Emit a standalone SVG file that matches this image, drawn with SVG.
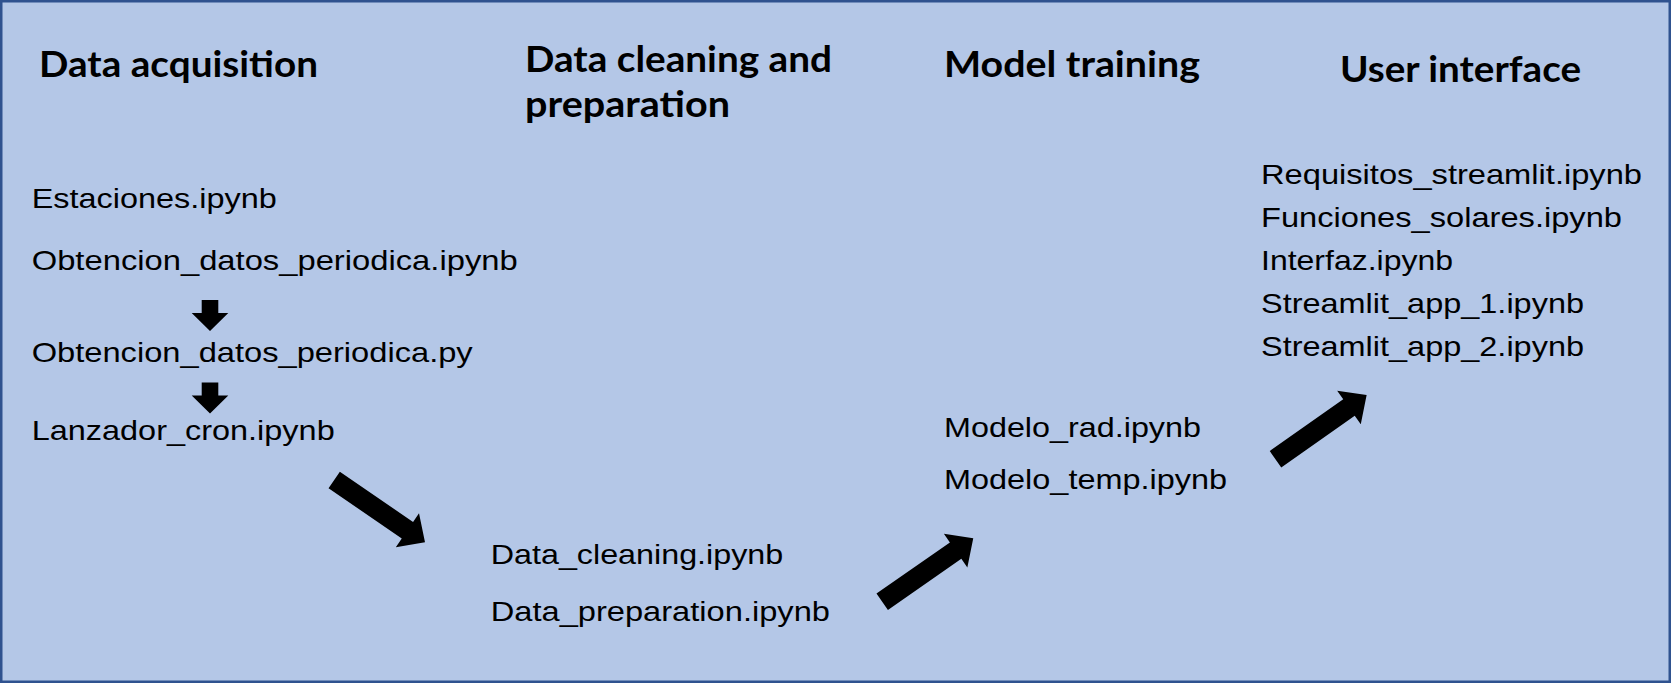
<svg xmlns="http://www.w3.org/2000/svg" xmlns:xlink="http://www.w3.org/1999/xlink" width="1671" height="683" viewBox="0 0 1671 683">
  <style>
    .h { font-family: Lato, "Open Sans", "Liberation Sans", sans-serif; font-weight: 700; font-size: 35.5px; fill: #000; }
    .t { font-family: "Liberation Sans", Arial, sans-serif; font-size: 27.5px; fill: #000; }
    .r { font-family: "Liberation Sans", Arial, sans-serif; font-size: 28.5px; fill: #000; }
    .arrow { fill: #000; }
  </style>
  <defs>
    <path id="bigArrow" d="M0,-10 L89.5,-10 L89.5,-20.5 L111,0 L89.5,20.5 L89.5,10 L0,10 Z"/>
    <path id="smallDown" d="M-8.3,0 L8.3,0 L8.3,13 L18.3,13 L0,31 L-18.3,13 L-8.3,13 Z"/>
  </defs>
  <rect x="1.25" y="1.25" width="1668.5" height="680.5" fill="#B4C7E7" stroke="#2F528F" stroke-width="2.5"/>

  <g id="data-acquisition">
    <text class="h" x="39" y="77" textLength="279" lengthAdjust="spacingAndGlyphs">Data acquisition</text>
    <text class="t" x="31.7" y="207.5" textLength="245" lengthAdjust="spacingAndGlyphs">Estaciones.ipynb</text>
    <text class="t" x="31.7" y="270" textLength="486" lengthAdjust="spacingAndGlyphs">Obtencion_datos_periodica.ipynb</text>
    <text class="t" x="31.7" y="361.7" textLength="441" lengthAdjust="spacingAndGlyphs">Obtencion_datos_periodica.py</text>
    <text class="t" x="31.7" y="440" textLength="303" lengthAdjust="spacingAndGlyphs">Lanzador_cron.ipynb</text>
  </g>

  <g id="data-cleaning">
    <text class="h" x="525" y="71.5" textLength="307" lengthAdjust="spacingAndGlyphs">Data cleaning and</text>
    <text class="h" x="525" y="117" textLength="205" lengthAdjust="spacingAndGlyphs">preparation</text>
    <text class="t" x="490.7" y="563.5" textLength="292.6" lengthAdjust="spacingAndGlyphs">Data_cleaning.ipynb</text>
    <text class="t" x="490.7" y="621" textLength="339.3" lengthAdjust="spacingAndGlyphs">Data_preparation.ipynb</text>
  </g>

  <g id="model-training">
    <text class="h" x="944" y="76.7" textLength="256" lengthAdjust="spacingAndGlyphs">Model training</text>
    <text class="r" x="944" y="437" textLength="257" lengthAdjust="spacingAndGlyphs">Modelo_rad.ipynb</text>
    <text class="r" x="944" y="489" textLength="283" lengthAdjust="spacingAndGlyphs">Modelo_temp.ipynb</text>
  </g>

  <g id="user-interface">
    <text class="h" x="1340" y="81.7" textLength="241" lengthAdjust="spacingAndGlyphs">User interface</text>
    <text class="r" x="1261" y="183.5" textLength="381" lengthAdjust="spacingAndGlyphs">Requisitos_streamlit.ipynb</text>
    <text class="r" x="1261" y="226.5" textLength="361" lengthAdjust="spacingAndGlyphs">Funciones_solares.ipynb</text>
    <text class="r" x="1261" y="269.5" textLength="192" lengthAdjust="spacingAndGlyphs">Interfaz.ipynb</text>
    <text class="r" x="1261" y="312.5" textLength="323" lengthAdjust="spacingAndGlyphs">Streamlit_app_1.ipynb</text>
    <text class="r" x="1261" y="355.5" textLength="323" lengthAdjust="spacingAndGlyphs">Streamlit_app_2.ipynb</text>
  </g>

  <g id="connectors" class="arrow">
    <use xlink:href="#smallDown" href="#smallDown" transform="translate(210,300)"/>
    <use xlink:href="#smallDown" href="#smallDown" transform="translate(210,382.5)"/>
    <use xlink:href="#bigArrow" href="#bigArrow" transform="translate(334.2,480) rotate(34.45) scale(0.992,1)"/>
    <use xlink:href="#bigArrow" href="#bigArrow" transform="translate(882.2,601.8) rotate(-34.88)"/>
    <use xlink:href="#bigArrow" href="#bigArrow" transform="translate(1275.5,459.2) rotate(-35.14) scale(1.004,1)"/>
  </g>
</svg>
